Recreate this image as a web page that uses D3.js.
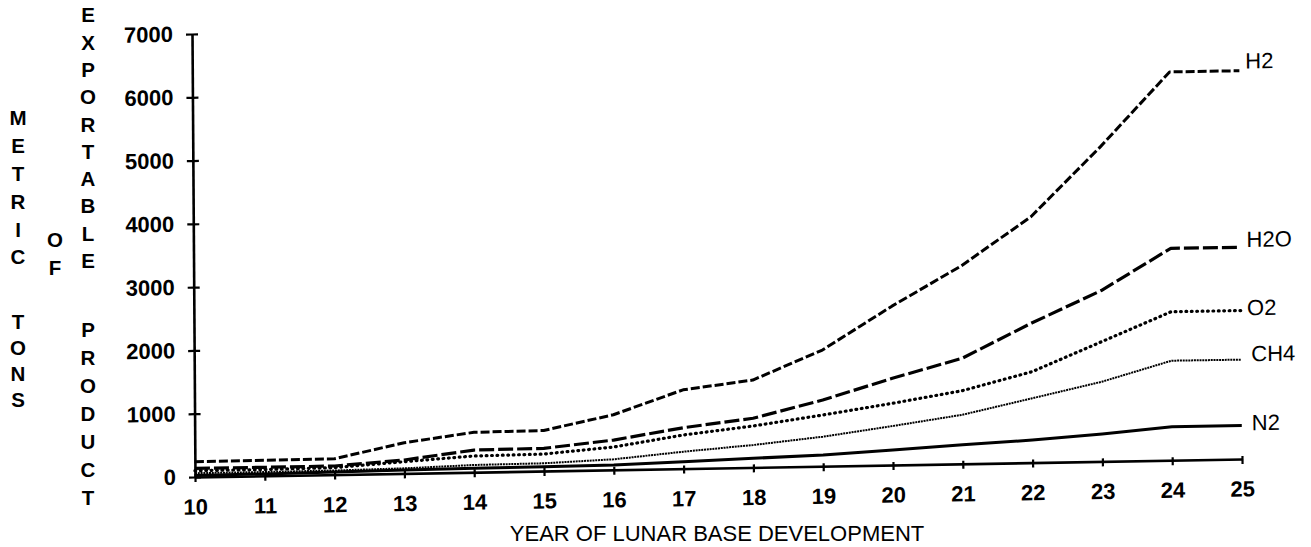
<!DOCTYPE html>
<html>
<head>
<meta charset="utf-8">
<script src="https://cdn.jsdelivr.net/npm/d3@7"></script>
<style>
  html, body { margin: 0; padding: 0; background: #fff; }
  svg { display: block; }
  text { font-family: "Liberation Sans", Arial, Helvetica, sans-serif; fill: #000; }
</style>
</head>
<body>
<svg id="chart" width="1311" height="547"></svg>
<script>
// ---- data ----
const years = [10, 11, 12, 13, 14, 15, 16, 17, 18, 19, 20, 21, 22, 23, 24, 25];
const xTickLabels = [10, 11, 12, 13, 14, 15, 16, 17, 18, 19, 20, 21, 22, 23, 24, 25];
const yTickValues = [0, 1000, 2000, 3000, 4000, 5000, 6000, 7000];
const seriesNames = ["H2", "H2O", "O2", "CH4", "N2"];
const h2  = [240, 245, 250, 485, 630, 640, 870, 1245, 1380, 1836, 2510, 3130, 3885, 4970, 6135, 6135];
const h2o = [137, 134, 136, 212, 350, 358, 470, 646, 776, 1046, 1370, 1667, 2205, 2700, 3348, 3345];
const o2  = [100, 100, 110, 185, 256, 268, 360, 531, 654, 809, 975, 1155, 1436, 1891, 2346, 2346];
const ch4 = [60, 60, 65, 80, 114, 122, 166, 267, 354, 466, 616, 775, 1016, 1259, 1572, 1570];
const n2  = [25, 30, 40, 54, 62, 68, 76, 109, 144, 177, 237, 300, 357, 433, 529, 529];
const xTitle = "YEAR OF LUNAR BASE DEVELOPMENT";

// ---- styles (kept apart from data) ----
const styles = {
  "H2":  { dash: "9,3",     width: 3,   cap: "butt",  nudge: -10, dx: 6 },
  "H2O": { dash: "15,4",    width: 3.2, cap: "butt",  nudge: -8,  dx: 6 },
  "O2":  { dash: "0.8,4.6", width: 3.2, cap: "round", nudge: -3,  dx: 6 },
  "CH4": { dash: "2,0.8",   width: 2,   cap: "butt",  nudge: -6,  dx: 10 },
  "N2":  { dash: null,      width: 3,   cap: "butt",  nudge: -3,  dx: 10 }
};
const seriesValues = [h2, h2o, o2, ch4, n2];

const svg = d3.select("#chart");
const W = 1047, H = 443;
const x = d3.scaleLinear().domain([10, 25]).range([0, W]);
const y = d3.scaleLinear().domain([0, 7000]).range([H, 0]);

// slight skew of the scanned original
const g = svg.append("g").attr("transform", "matrix(1,-0.0172,0.00677,1,192,34)");

// y axis
g.append("g").call(
  d3.axisLeft(y).tickValues(yTickValues).tickSizeInner(6).tickSizeOuter(0).tickPadding(13).tickFormat(d3.format("d"))
);
g.append("g").call(
  d3.axisRight(y).tickValues(yTickValues).tickSizeInner(6).tickSizeOuter(0).tickFormat("")
).call(s => s.select(".domain").remove());

// x axis
g.append("g").attr("transform", `translate(0,${H})`).call(
  d3.axisBottom(x).tickValues(xTickLabels).tickSizeInner(5).tickSizeOuter(0).tickPadding(17).tickFormat(d3.format("d"))
);
g.append("g").attr("transform", `translate(0,${H})`).call(
  d3.axisTop(x).tickValues(xTickLabels).tickSizeInner(3).tickSizeOuter(0).tickFormat("")
).call(s => s.select(".domain").remove());

g.selectAll(".domain").attr("stroke", "#000").attr("stroke-width", 2.6);
g.selectAll(".tick line").attr("stroke", "#000").attr("stroke-width", 2.2);
g.selectAll(".tick text")
  .attr("font-family", "'Liberation Sans', Arial, sans-serif")
  .attr("font-size", 22).attr("font-weight", "bold").attr("fill", "#000");

// lines
const line = d3.line().x((d, i) => x(years[i])).y(d => y(d)).curve(d3.curveLinear);
seriesNames.forEach((name, k) => {
  const st = styles[name];
  const p = g.append("path")
    .datum(seriesValues[k])
    .attr("d", line)
    .attr("fill", "none")
    .attr("stroke", "#000")
    .attr("stroke-width", st.width)
    .attr("stroke-linecap", st.cap)
    .attr("stroke-linejoin", "round");
  if (st.dash) p.attr("stroke-dasharray", st.dash);
  const vals = seriesValues[k];
  g.append("text")
    .attr("x", x(years[years.length - 1]) + st.dx)
    .attr("y", y(vals[vals.length - 1]) + st.nudge)
    .attr("dy", "0.36em")
    .attr("font-size", 22)
    .text(name);
});

// x title
svg.append("text")
  .attr("x", 717).attr("y", 541)
  .attr("text-anchor", "middle")
  .attr("font-size", 22)
  .text(xTitle);

// vertical stacked y titles
function stack(word, cx, startY, step) {
  const t = svg.append("g");
  word.split("").forEach((ch, i) => {
    t.append("text")
      .attr("x", cx).attr("y", startY + i * step)
      .attr("dy", "0.36em")
      .attr("text-anchor", "middle")
      .attr("font-size", 20.5).attr("font-weight", "bold")
      .text(ch);
  });
}
stack("METRIC", 18, 118, 27.8);
stack("TONS", 18, 322, 26);
stack("OF", 55, 240, 28);
stack("EXPORTABLE", 88, 15, 27.3);
stack("PRODUCT", 88, 330, 28);
</script>
</body>
</html>
